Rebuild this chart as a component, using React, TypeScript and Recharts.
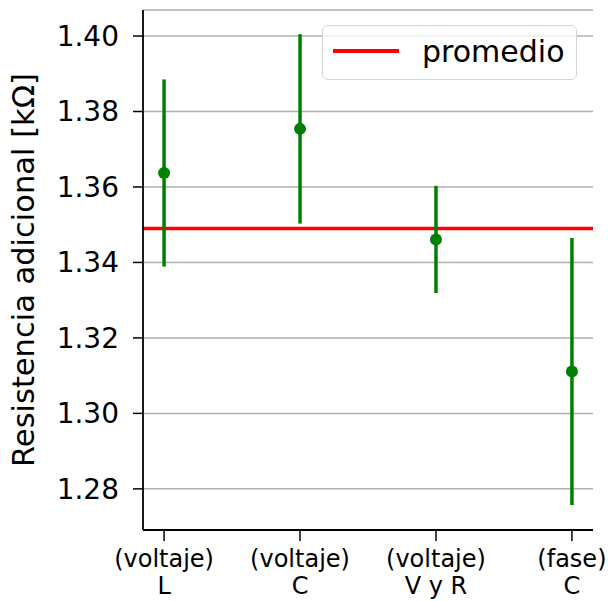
import React from "react";
import { ComposedChart, Scatter, ErrorBar, XAxis, YAxis, CartesianGrid, ReferenceLine } from "recharts";

const methods = ["(voltaje)\nL", "(voltaje)\nC", "(voltaje)\nV y R", "(fase)\nC"];
const resistance = [1.3637, 1.3754, 1.3461, 1.3111];
const uncertainty = [0.0248, 0.0251, 0.0142, 0.0354];
const average = 1.349;
const yTicks = [1.28, 1.3, 1.32, 1.34, 1.36, 1.38, 1.4];

const points = methods.map((m, i) => ({ x: i, y: resistance[i], err: uncertainty[i] }));

const FONT = "'DejaVu Sans', sans-serif";
const GREEN = "#008000";

const CategoryTick = (props: any) => {
  const { x, y, payload } = props;
  const lines = methods[payload.value].split("\n");
  return (
    <text x={x} y={y} textAnchor="middle" fontFamily={FONT} fontSize={24} fill="#000">
      {lines.map((l, i) => (
        <tspan key={i} x={x} y={y + 24 + i * 27}>{l}</tspan>
      ))}
    </text>
  );
};

const YLabel = (props: any) => {
  const vb = props.viewBox || { y: 10, height: 520 };
  const cy = vb.y + vb.height / 2;
  return (
    <text
      transform={`translate(34, ${cy}) rotate(-90)`}
      textAnchor="middle"
      fontFamily={FONT}
      fontSize={30.5}
      fill="#000"
    >
      Resistencia adicional [kΩ]
    </text>
  );
};

const Dot = (props: any) => <circle cx={props.cx} cy={props.cy} r={6} fill={GREEN} />;

export default function App() {
  return (
    <div style={{ position: "absolute", left: 0, top: 0, width: 608, height: 601, background: "#fff" }}>
      <ComposedChart
        width={608}
        height={601}
        data={points}
        margin={{ top: 10, right: 15, bottom: 0, left: 0 }}
      >
        <CartesianGrid vertical={false} stroke="#b0b0b0" strokeWidth={1.5} />
        <XAxis
          dataKey="x"
          type="number"
          domain={[-0.155, 3.155]}
          ticks={[0, 1, 2, 3]}
          interval={0}
          height={71}
          tick={<CategoryTick />}
          tickSize={11}
          tickLine={{ stroke: "#000", strokeWidth: 1.5 }}
          axisLine={{ stroke: "#000", strokeWidth: 1.8 }}
          allowDataOverflow
        />
        <XAxis
          xAxisId="top"
          orientation="top"
          type="number"
          domain={[-0.155, 3.155]}
          height={0}
          tick={false}
          tickLine={false}
          axisLine={{ stroke: "#000", strokeWidth: 1.8 }}
        />
        <YAxis
          type="number"
          domain={[1.2691, 1.4069]}
          ticks={yTicks}
          interval={0}
          width={143}
          allowDataOverflow
          tickFormatter={(v: number) => v.toFixed(2)}
          tick={{ fontFamily: FONT, fontSize: 28, fill: "#000" }}
          tickSize={10}
          tickMargin={14}
          tickLine={{ stroke: "#000", strokeWidth: 1.5 }}
          axisLine={{ stroke: "#000", strokeWidth: 1.8 }}
          label={<YLabel />}
        />
        <YAxis
          yAxisId="right"
          orientation="right"
          width={0}
          tick={false}
          tickLine={false}
          axisLine={{ stroke: "#000", strokeWidth: 1.8 }}
        />
        <ReferenceLine y={average} stroke="#ff0000" strokeWidth={3.5} />
        <Scatter dataKey="y" fill={GREEN} shape={<Dot />} isAnimationActive={false}>
          <ErrorBar dataKey="err" direction="y" width={0} stroke={GREEN} strokeWidth={3.5} isAnimationActive={false} />
        </Scatter>
      </ComposedChart>
      <div
        style={{
          position: "absolute",
          left: 322,
          top: 25,
          width: 255,
          height: 55,
          boxSizing: "border-box",
          border: "1.5px solid #d4d4d4",
          borderRadius: 6,
          background: "rgba(255,255,255,0.8)",
          fontFamily: FONT,
        }}
      >
        <svg width={80} height={52} style={{ position: "absolute", left: 0, top: 0 }}>
          <line x1={10} x2={76} y1={25} y2={25} stroke="#ff0000" strokeWidth={4} />
        </svg>
        <span style={{ position: "absolute", left: 99, top: 8, fontSize: 30, lineHeight: "36px", color: "#000" }}>
          promedio
        </span>
      </div>
    </div>
  );
}
